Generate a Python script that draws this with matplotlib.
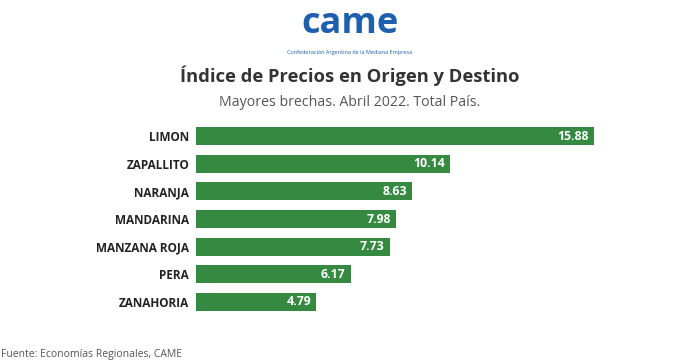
import matplotlib.pyplot as plt

# Data
productos = ["LIMON", "ZAPALLITO", "NARANJA", "MANDARINA", "MANZANA ROJA", "PERA", "ZANAHORIA"]
brechas = [15.88, 10.14, 8.63, 7.98, 7.73, 6.17, 4.79]

verde = '#368940'
plt.rcParams['font.family'] = ['Open Sans', 'DejaVu Sans']

fig = plt.figure(figsize=(7, 3.62), dpi=100)
ax = fig.add_axes([0.28, 0.1276, 0.5686, 0.5348])

pos = list(range(len(productos)))
ax.barh(pos, brechas, height=0.66, color=verde)
ax.set_ylim(len(productos) - 0.5, -0.5)
ax.set_xlim(0, max(brechas))

for p, v in zip(pos, brechas):
    ax.text(v - 0.2, p, f"{v:.2f}", ha='right', va='center', color='white',
            fontsize=8.8, fontweight='bold')

ax.set_yticks(pos)
ax.set_yticklabels(productos, fontsize=8.5, fontweight='bold', color='#222222')
ax.tick_params(axis='y', length=0, pad=5)
ax.set_xticks([])
for s in ax.spines.values():
    s.set_visible(False)

# logo (approximation as text)
fig.text(0.5, 0.935, "came", ha='center', va='center', fontsize=26, fontweight='bold',
         color='#1f5fae')
fig.text(0.5, 0.855, "Confederación Argentina de la Mediana Empresa", ha='center', va='center',
         fontsize=4, color='#1f5fae')

fig.text(0.5, 0.79, "Índice de Precios en Origen y Destino", ha='center', va='center',
         fontsize=13.2, fontweight='bold', color='#333333')
fig.text(0.5, 0.718, "Mayores brechas. Abril 2022. Total País.", ha='center', va='center',
         fontsize=10.2, color='#555555')
fig.text(0.002, 0.022, "Fuente: Economías Regionales, CAME", ha='left', va='center',
         fontsize=7.5, color='#555555')

fig.savefig('out.png', dpi=100)
